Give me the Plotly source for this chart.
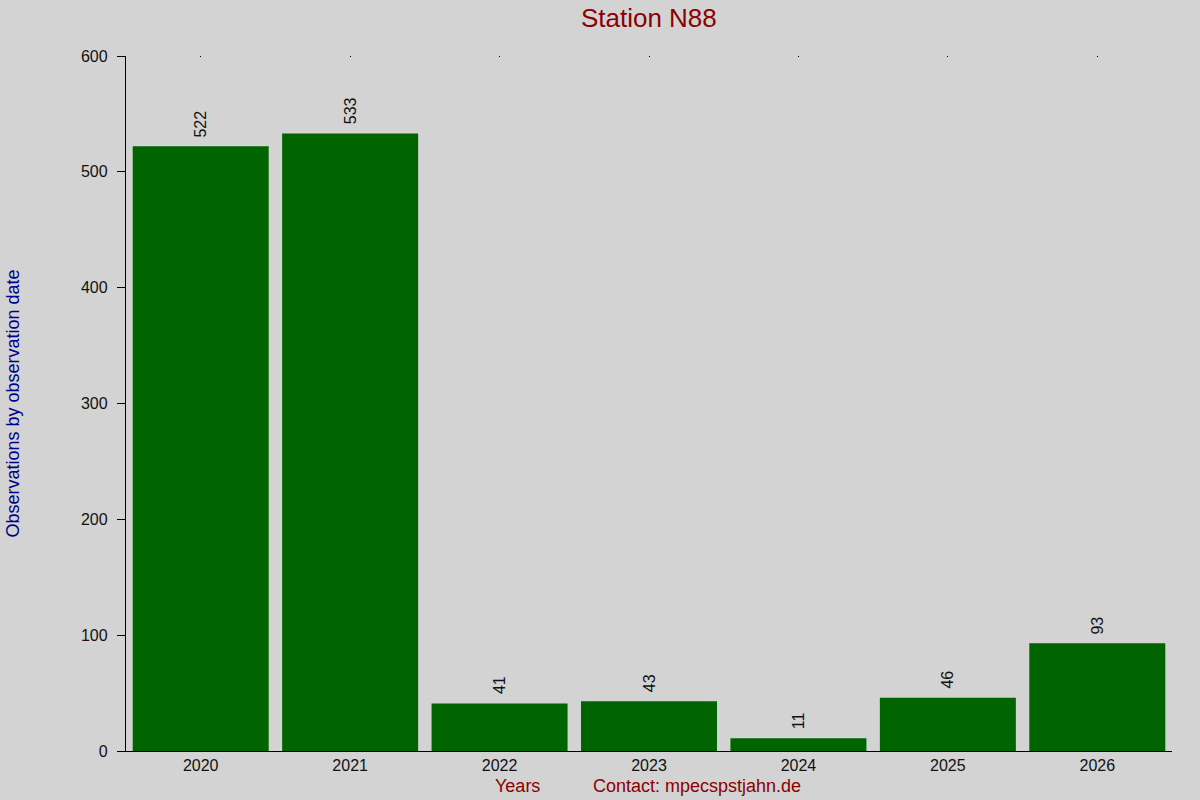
import plotly.graph_objects as go

years = ["2020", "2021", "2022", "2023", "2024", "2025", "2026"]
counts = [522, 533, 41, 43, 11, 46, 93]

bg = "#D3D3D3"
dark_red = "#8B0000"
font = "Liberation Sans, Arial, sans-serif"

fig = go.Figure()
fig.add_trace(go.Bar(
    x=years, y=counts,
    marker=dict(color="#006400", line=dict(width=0)),
))
# invisible trace on the top axis, only to get the little tick dots
fig.add_trace(go.Bar(x=years, y=[None] * len(years), xaxis="x2", showlegend=False))

# value labels above the bars (category axis -> use the category index)
labels = [
    dict(x=i, y=c, xref="x", yref="y", text=str(c), textangle=-90, showarrow=False,
         xanchor="center", yanchor="bottom", yshift=7,
         font=dict(size=16, color="#111111"))
    for i, c in enumerate(counts)
]

foot_y = -(786 - 751) / 695
labels += [
    dict(text="Years", xref="paper", yref="paper", x=(517 - 126) / 1046, y=foot_y,
         xanchor="center", yanchor="middle", showarrow=False,
         font=dict(size=18, color=dark_red)),
    dict(text="Contact: mpecspstjahn.de", xref="paper", yref="paper", x=(697 - 126) / 1046,
         y=foot_y, xanchor="center", yanchor="middle", showarrow=False,
         font=dict(size=18, color=dark_red)),
]

fig.update_layout(
    width=1200, height=800,
    paper_bgcolor=bg, plot_bgcolor=bg,
    margin=dict(l=126, r=28, t=56, b=49),
    bargap=0.09,
    showlegend=False,
    font=dict(family=font, size=16, color="#111111"),
    title=dict(text="Station N88", x=0.5407, xanchor="center", y=0.978, yanchor="middle",
               font=dict(size=26, color=dark_red, family=font)),
    xaxis=dict(
        type="category", range=[-0.5, 6.5],
        showline=True, linecolor="black", linewidth=1.3,
        ticks="", showgrid=False, zeroline=False,
        tickfont=dict(size=16, color="#111111"),
    ),
    xaxis2=dict(
        type="category", range=[-0.5, 6.5], overlaying="x", side="top",
        matches="x", ticks="inside", ticklen=1, tickwidth=1, tickcolor="black",
        showticklabels=False, showline=False, showgrid=False,
    ),
    yaxis=dict(
        range=[0, 600], tickvals=[0, 100, 200, 300, 400, 500, 600],
        showline=True, linecolor="black", linewidth=1.3,
        ticks="outside", ticklen=8, tickcolor="black", tickwidth=1.3,
        showgrid=False, zeroline=False,
        ticklabelstandoff=6,
        tickfont=dict(size=16, color="#111111"),
        title=dict(text="Observations by observation date", standoff=56,
                   font=dict(size=18, color="#00008B")),
    ),
    annotations=labels,
)

fig.write_html("out.html", config={"displayModeBar": False},
               post_script="document.body.style.margin='0';")
